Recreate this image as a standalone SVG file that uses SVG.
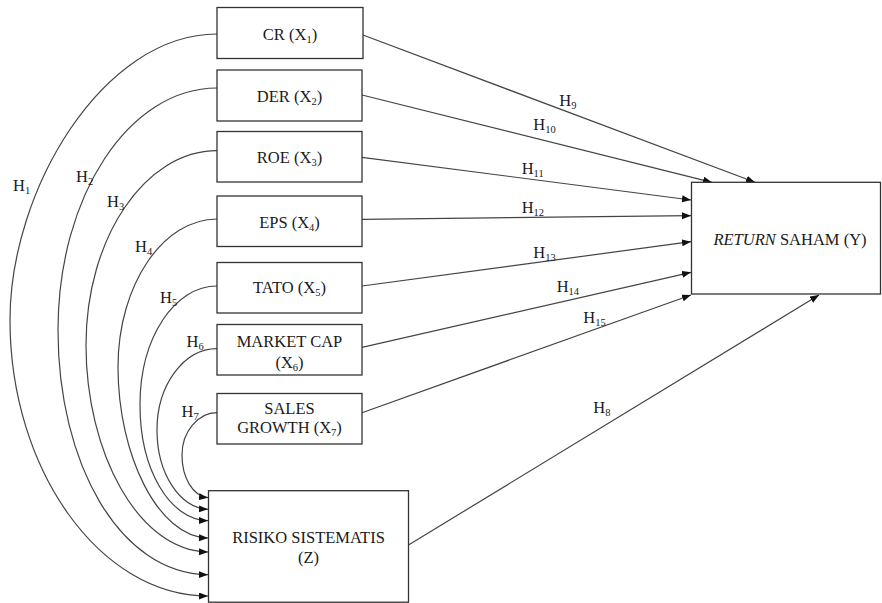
<svg xmlns="http://www.w3.org/2000/svg" width="882" height="603" viewBox="0 0 882 603">
<defs>
<style>
.box{fill:#fff;stroke:#333;stroke-width:1.3}
.t{font-family:"Liberation Serif","Times New Roman",serif;font-size:16.5px;fill:#1a1a1a}
.c{text-anchor:middle}
.s{font-size:10.5px}
.e{fill:none;stroke:#444;stroke-width:1.2}
</style>
<marker id="ah" markerUnits="userSpaceOnUse" markerWidth="10" markerHeight="8" refX="9" refY="3.5" orient="auto">
<path d="M0,0 L9,3.5 L0,7 z" fill="#111"/>
</marker>
</defs>
<rect width="882" height="603" fill="#fff"/>

<g id="connectors">
<path class="e" marker-end="url(#ah)" d="M217,34 C103,34 10,190 10,320 C10,470 100,596 208,596"/>
<path class="e" marker-end="url(#ah)" d="M217,88 C129,88 58,196 58,330 C58,464 120,574 208,574.7"/>
<path class="e" marker-end="url(#ah)" d="M217,150.7 C145,150.7 86,238 86,345 C86,452 138,551 208,552"/>
<path class="e" marker-end="url(#ah)" d="M217,219 C163,219 118,285 118,367 C118,455 158,537 208,538"/>
<path class="e" marker-end="url(#ah)" d="M217,286 C175,286 140,337 140,405 C140,470 170,520 208,520.7"/>
<path class="e" marker-end="url(#ah)" d="M217,348.7 C184,348.7 157,385 157,430 C157,474 180,508 208,509.3"/>
<path class="e" marker-end="url(#ah)" d="M217,412.7 C198,412.7 182,432 182,455 C182,478 193,496 208,497.7"/>

<line class="e" marker-end="url(#ah)" x1="363" y1="35" x2="755" y2="182.3"/>
<line class="e" marker-end="url(#ah)" x1="362" y1="95" x2="712" y2="182.3"/>
<line class="e" marker-end="url(#ah)" x1="362" y1="157.3" x2="691" y2="200"/>
<line class="e" marker-end="url(#ah)" x1="362" y1="219.3" x2="691" y2="215.7"/>
<line class="e" marker-end="url(#ah)" x1="362" y1="286" x2="691" y2="241.7"/>
<line class="e" marker-end="url(#ah)" x1="362" y1="347.3" x2="691" y2="272.3"/>
<line class="e" marker-end="url(#ah)" x1="362" y1="412.7" x2="691" y2="295"/>
<line class="e" marker-end="url(#ah)" x1="408.5" y1="545" x2="819" y2="295"/>
</g>

<g id="labels" class="t">
<text x="13" y="190.7">H<tspan class="s" dy="3">1</tspan></text>
<text x="76" y="181.7">H<tspan class="s" dy="3">2</tspan></text>
<text x="107" y="207.3">H<tspan class="s" dy="3">3</tspan></text>
<text x="135" y="252.3">H<tspan class="s" dy="3">4</tspan></text>
<text x="160" y="302.5">H<tspan class="s" dy="3">5</tspan></text>
<text x="186.5" y="346.7">H<tspan class="s" dy="3">6</tspan></text>
<text x="181.5" y="416.7">H<tspan class="s" dy="3">7</tspan></text>
<text x="593.3" y="412.7">H<tspan class="s" dy="3">8</tspan></text>
<text x="559.3" y="106">H<tspan class="s" dy="3">9</tspan></text>
<text x="533.3" y="130">H<tspan class="s" dy="3">10</tspan></text>
<text x="521.7" y="174">H<tspan class="s" dy="3">11</tspan></text>
<text x="521.7" y="213.3">H<tspan class="s" dy="3">12</tspan></text>
<text x="533.3" y="258.3">H<tspan class="s" dy="3">13</tspan></text>
<text x="556.7" y="292.3">H<tspan class="s" dy="3">14</tspan></text>
<text x="583.3" y="323.3">H<tspan class="s" dy="3">15</tspan></text>
</g>

<g id="node-cr">
<rect class="box" x="217" y="7.5" width="146" height="51"/>
<text class="t c" x="290" y="39.5">CR (X<tspan class="s" dy="3">1</tspan><tspan dy="-3">)</tspan></text>
</g>
<g id="node-der">
<rect class="box" x="217" y="70" width="145" height="51"/>
<text class="t c" x="289.5" y="101.7">DER (X<tspan class="s" dy="3">2</tspan><tspan dy="-3">)</tspan></text>
</g>
<g id="node-roe">
<rect class="box" x="217" y="131.5" width="145" height="50.5"/>
<text class="t c" x="289.5" y="163.3">ROE (X<tspan class="s" dy="3">3</tspan><tspan dy="-3">)</tspan></text>
</g>
<g id="node-eps">
<rect class="box" x="217" y="196" width="145" height="50.5"/>
<text class="t c" x="289.5" y="227.7">EPS (X<tspan class="s" dy="3">4</tspan><tspan dy="-3">)</tspan></text>
</g>
<g id="node-tato">
<rect class="box" x="217" y="262.5" width="145" height="50.5"/>
<text class="t c" x="289.5" y="292.7">TATO (X<tspan class="s" dy="3">5</tspan><tspan dy="-3">)</tspan></text>
</g>
<g id="node-mcap">
<rect class="box" x="217" y="324.5" width="145" height="50.5"/>
<text class="t c" x="289.5" y="346.7">MARKET CAP</text>
<text class="t c" x="289.5" y="367.7">(X<tspan class="s" dy="3">6</tspan><tspan dy="-3">)</tspan></text>
</g>
<g id="node-sg">
<rect class="box" x="217" y="393.5" width="145" height="50.5"/>
<text class="t c" x="289.5" y="414.3">SALES</text>
<text class="t c" x="289.5" y="433.3">GROWTH (X<tspan class="s" dy="3">7</tspan><tspan dy="-3">)</tspan></text>
</g>
<g id="node-z">
<rect class="box" x="208.5" y="490.7" width="200" height="111.5"/>
<text class="t c" x="308.5" y="543.3">RISIKO SISTEMATIS</text>
<text class="t c" x="308.5" y="563.3">(Z)</text>
</g>
<g id="node-y">
<rect class="box" x="691.5" y="182.3" width="189" height="111.7"/>
<text class="t c" x="790" y="245"><tspan font-style="italic">RETURN</tspan> SAHAM (Y)</text>
</g>
</svg>
